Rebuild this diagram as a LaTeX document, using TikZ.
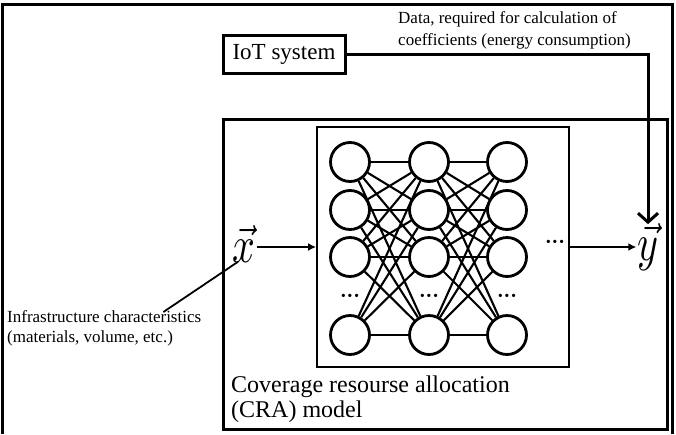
\documentclass[tikz,border=0pt]{standalone}
\usepackage{graphicx}
\usepackage{fontspec}
\setmainfont{Liberation Serif}
\usetikzlibrary{arrows.meta}
\begin{document}
\begin{tikzpicture}[x=1pt,y=-1pt,
  frame/.style={line width=3pt},
  neuron/.style={circle,draw,line width=2.8pt,minimum size=39pt,inner sep=0pt},
  syn/.style={line width=2.1pt},
  dotsl/.style={inner sep=0pt,font=\fontsize{20}{20}\selectfont\bfseries},
  lbl/.style={inner sep=0pt,align=left,font=\fontsize{17}{20}\selectfont},
  vecl/.style={inner sep=1pt},
]
\useasboundingbox (0,0) rectangle (676,434);
% outer frame
\draw[frame] (2.5,434) -- (2.5,4.5) -- (672.5,4.5) -- (672.5,434);

% CRA box
\node[draw,frame,minimum width=444pt,minimum height=310pt,inner sep=0pt] (cra) at (445,274) {};
\node[anchor=north west,inner sep=0pt,align=left,font=\fontsize{24}{25}\selectfont] (cralbl) at (231,376) {Coverage resourse allocation\\(CRA) model};

% IoT box
\node[draw,frame,minimum width=122pt,minimum height=38pt,inner sep=0pt,font=\fontsize{23}{23}\selectfont] (iot) at (284,54) {IoT system};
\node[lbl,anchor=north west,font=\fontsize{17}{22}\selectfont] (data) at (398,11) {Data, required for calculation of\\coefficients (energy consumption)};

% NN box
\node[draw,line width=1.8pt,minimum width=252pt,minimum height=240pt,inner sep=0pt] (nn) at (443,247) {};

% inputs / outputs
\node[vecl] (xv) at (244,244) {\scalebox{4}[5.2]{$\vec{x}$}};
\node[vecl] (yv) at (648,247) {\scalebox{4}[5.2]{$\vec{y}$}};
\node[dotsl] (odots) at (555,244) {···};

% neurons
\foreach \c/\x in {1/350,2/429,3/507}{
  \foreach \r/\y in {1/162,2/210,3/257,4/335}{
    \node[neuron] (n\c\r) at (\x,\y) {};
  }
  \node[dotsl] (d\c) at (\x,298) {···};
}
\foreach \i in {1,...,4}{
  \foreach \j in {1,...,4}{
    \draw[syn] (n1\i) -- (n2\j);
    \draw[syn] (n2\i) -- (n3\j);
  }
}

% infrastructure label
\node[lbl,anchor=west] (infra) at (7,328) {Infrastructure characteristics\\(materials, volume, etc.)};
\draw[line width=1.8pt] ([xshift=-38pt,yshift=-2pt]infra.north east) -- ([xshift=-6pt,yshift=2pt]xv.south);

% arrows
\draw[line width=2pt,-{Latex[length=8pt,width=8pt]}] (xv.east |- nn.west) -- (nn.west);
\draw[line width=2pt,-{Latex[length=8pt,width=8pt]}] (nn.east) -- (nn.east -| yv.west);
\draw[line width=3pt,-{Straight Barb[length=9pt,width=20pt,line width=3pt]}] (iot.east) -| ([yshift=-2pt]yv.north);
\end{tikzpicture}
\end{document}
